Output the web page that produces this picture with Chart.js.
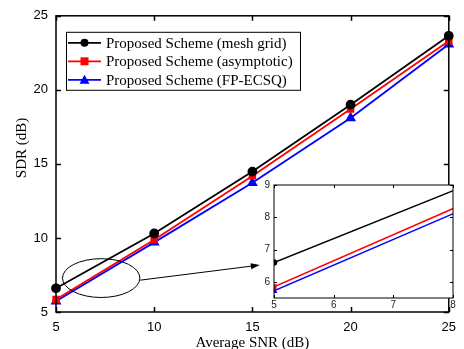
<!DOCTYPE html>
<html lang="en">
<head>
    <meta charset="UTF-8">
    <title>SDR vs Average SNR</title>
    <script src="https://cdn.jsdelivr.net/npm/chart.js"></script>
    <style>
        body {
            margin: 0;
            background: #fff;
        }
        #wrap {
            position: relative;
            width: 464px;
            height: 349px;
        }
        #main-chart {
            position: absolute;
            left: 0;
            top: 0;
        }
        #inset-chart {
            position: absolute;
            left: 255px;
            top: 175px;
        }
    </style>
</head>
<body>
    <div id="wrap">
        <canvas id="main-chart" width="464" height="349"></canvas>
        <canvas id="inset-chart" width="205" height="135"></canvas>
    </div>
    <script>
        // Data
        const snr = [5, 10, 15, 20, 25];
        const meshGrid = [6.6, 10.3, 14.48, 19.0, 23.65];
        const asymptotic = [5.85, 9.88, 14.19, 18.7, 23.3];
        const fpEcsq = [5.72, 9.7, 13.72, 18.1, 23.08];
        const seriesLabels = [
            'Proposed Scheme (mesh grid)',
            'Proposed Scheme (asymptotic)',
            'Proposed Scheme (FP-ECSQ)'
        ];
        const mainTicks = [5, 10, 15, 20, 25];
        const insetXTicks = [5, 6, 7, 8];
        const insetYTicks = [6, 7, 8, 9];

        const serif = '"Liberation Serif", "Times New Roman", serif';
        const sans = '"Liberation Sans", Arial, sans-serif';

        function toPoints(ys) {
            return snr.map((x, i) => ({ x: x, y: ys[i] }));
        }

        function makeDatasets(small) {
            const r = small ? 2.5 : 4;
            const w = small ? 1.5 : 1.8;
            return [
                { label: seriesLabels[0], data: toPoints(meshGrid), borderColor: '#000', backgroundColor: '#000',
                  pointStyle: 'circle', pointRadius: r, borderWidth: w },
                { label: seriesLabels[1], data: toPoints(asymptotic), borderColor: '#ff0000', backgroundColor: '#ff0000',
                  pointStyle: 'rect', pointRadius: r, borderWidth: w },
                { label: seriesLabels[2], data: toPoints(fpEcsq), borderColor: '#0000ff', backgroundColor: '#0000ff',
                  pointStyle: 'triangle', pointRadius: small ? 2.5 : 4.5, borderWidth: w }
            ];
        }

        // inward ticks on all four sides plus a full box
        const boxTicks = {
            id: 'boxTicks',
            afterDatasetsDraw(chart, args, opts) {
                const ctx = chart.ctx;
                const a = chart.chartArea;
                const len = opts.len || 5;
                ctx.save();
                ctx.strokeStyle = '#000';
                ctx.lineWidth = opts.width || 1.5;
                ctx.strokeRect(a.left, a.top, a.right - a.left, a.bottom - a.top);
                ctx.beginPath();
                chart.scales.x.ticks.forEach(t => {
                    const px = Math.round(chart.scales.x.getPixelForValue(t.value)) + 0.5;
                    ctx.moveTo(px, a.bottom); ctx.lineTo(px, a.bottom - len);
                    ctx.moveTo(px, a.top); ctx.lineTo(px, a.top + len);
                });
                chart.scales.y.ticks.forEach(t => {
                    const py = Math.round(chart.scales.y.getPixelForValue(t.value)) + 0.5;
                    ctx.moveTo(a.left, py); ctx.lineTo(a.left + len, py);
                    ctx.moveTo(a.right, py); ctx.lineTo(a.right - len, py);
                });
                ctx.stroke();
                ctx.restore();
            }
        };

        // zoom ellipse + arrow, given in data units
        const zoomMark = { cx: 7.3, cy: 7.29, rx: 1.97, ry: 1.31, fromX: 9.29, fromY: 7.15, toX: 15.38, toY: 8.17 };

        const extras = {
            id: 'extras',
            afterDraw(chart) {
                const ctx = chart.ctx;
                const xs = chart.scales.x, ys = chart.scales.y;
                const a = chart.chartArea;
                ctx.save();

                // ellipse
                const cx = xs.getPixelForValue(zoomMark.cx), cy = ys.getPixelForValue(zoomMark.cy);
                const rx = xs.getPixelForValue(zoomMark.cx + zoomMark.rx) - cx;
                const ry = cy - ys.getPixelForValue(zoomMark.cy + zoomMark.ry);
                ctx.strokeStyle = '#000';
                ctx.lineWidth = 1;
                ctx.beginPath();
                ctx.ellipse(cx, cy, rx, ry, 0, 0, Math.PI * 2);
                ctx.stroke();

                // arrow
                const x1 = xs.getPixelForValue(zoomMark.fromX), y1 = ys.getPixelForValue(zoomMark.fromY);
                const x2 = xs.getPixelForValue(zoomMark.toX), y2 = ys.getPixelForValue(zoomMark.toY);
                const ang = Math.atan2(y2 - y1, x2 - x1);
                ctx.beginPath();
                ctx.moveTo(x1, y1);
                ctx.lineTo(x2 - 8 * Math.cos(ang), y2 - 8 * Math.sin(ang));
                ctx.stroke();
                ctx.fillStyle = '#000';
                ctx.beginPath();
                ctx.moveTo(x2, y2);
                ctx.lineTo(x2 - 9 * Math.cos(ang) + 3 * Math.sin(ang), y2 - 9 * Math.sin(ang) - 3 * Math.cos(ang));
                ctx.lineTo(x2 - 9 * Math.cos(ang) - 3 * Math.sin(ang), y2 - 9 * Math.sin(ang) + 3 * Math.cos(ang));
                ctx.closePath();
                ctx.fill();

                // legend box
                const lx = a.left + 10, ly = a.top + 16, lw = 234, lh = 58;
                ctx.fillStyle = '#fff';
                ctx.fillRect(lx, ly, lw, lh);
                ctx.strokeStyle = '#000';
                ctx.lineWidth = 1;
                ctx.strokeRect(lx + 0.5, ly + 0.5, lw, lh);
                chart.data.datasets.forEach((ds, i) => {
                    const ry0 = ly + 11 + i * 18.5;
                    ctx.strokeStyle = ds.borderColor;
                    ctx.lineWidth = 1.8;
                    ctx.beginPath();
                    ctx.moveTo(lx + 2, ry0);
                    ctx.lineTo(lx + 35, ry0);
                    ctx.stroke();
                    ctx.fillStyle = ds.backgroundColor;
                    const mx = lx + 18.5;
                    ctx.beginPath();
                    if (ds.pointStyle === 'circle') {
                        ctx.arc(mx, ry0, 4, 0, Math.PI * 2);
                    } else if (ds.pointStyle === 'rect') {
                        ctx.rect(mx - 4, ry0 - 4, 8, 8);
                    } else {
                        ctx.moveTo(mx, ry0 - 5);
                        ctx.lineTo(mx + 5, ry0 + 4);
                        ctx.lineTo(mx - 5, ry0 + 4);
                        ctx.closePath();
                    }
                    ctx.fill();
                    ctx.fillStyle = '#000';
                    ctx.font = '15px ' + serif;
                    ctx.textAlign = 'left';
                    ctx.textBaseline = 'middle';
                    ctx.fillText(ds.label, lx + 40, ry0 + 1);
                });

                // axis titles
                ctx.fillStyle = '#000';
                ctx.font = '15px ' + serif;
                ctx.textAlign = 'center';
                ctx.textBaseline = 'middle';
                ctx.fillText('Average SNR (dB)', (a.left + a.right) / 2, 343);
                ctx.translate(22, 148);
                ctx.rotate(-Math.PI / 2);
                ctx.fillText('SDR (dB)', 0, 0);
                ctx.restore();
            }
        };

        new Chart(document.getElementById('main-chart'), {
            type: 'line',
            data: { datasets: makeDatasets(false) },
            options: {
                responsive: false,
                animation: false,
                clip: false,
                layout: { padding: { top: 15, right: 6, left: 0, bottom: 0 } },
                plugins: {
                    legend: { display: false },
                    tooltip: { enabled: false },
                    boxTicks: { len: 5, width: 1.5 }
                },
                scales: {
                    x: {
                        type: 'linear', min: 5, max: 25,
                        afterBuildTicks: s => { s.ticks = mainTicks.map(v => ({ value: v })); },
                        afterFit: s => { s.height = 37; },
                        grid: { display: false, drawTicks: false },
                        border: { display: false },
                        ticks: { color: '#000', font: { family: sans, size: 13 }, padding: 8, maxRotation: 0 }
                    },
                    y: {
                        type: 'linear', min: 5, max: 25,
                        afterBuildTicks: s => { s.ticks = mainTicks.map(v => ({ value: v })); },
                        afterFit: s => { s.width = 56; },
                        grid: { display: false, drawTicks: false },
                        border: { display: false },
                        ticks: { color: '#000', font: { family: sans, size: 13 }, padding: 8 }
                    }
                }
            },
            plugins: [boxTicks, extras]
        });

        // white plot area behind the inset lines
        const insetBg = {
            id: 'insetBg',
            beforeDatasetsDraw(chart) {
                const a = chart.chartArea;
                chart.ctx.save();
                chart.ctx.fillStyle = '#fff';
                chart.ctx.fillRect(a.left, a.top, a.right - a.left, a.bottom - a.top);
                chart.ctx.restore();
            }
        };

        new Chart(document.getElementById('inset-chart'), {
            type: 'line',
            data: { datasets: makeDatasets(true) },
            options: {
                responsive: false,
                animation: false,
                layout: { padding: { top: 6, right: 7, left: 0, bottom: 0 } },
                plugins: {
                    legend: { display: false },
                    tooltip: { enabled: false },
                    boxTicks: { len: 3, width: 1 }
                },
                scales: {
                    x: {
                        type: 'linear', min: 5, max: 8,
                        afterBuildTicks: s => { s.ticks = insetXTicks.map(v => ({ value: v })); },
                        afterFit: s => { s.height = 12; },
                        grid: { display: false, drawTicks: false },
                        border: { display: false },
                        ticks: { color: '#222', font: { family: sans, size: 10 }, padding: 1, maxRotation: 0 }
                    },
                    y: {
                        type: 'linear', min: 5.5, max: 9,
                        afterBuildTicks: s => { s.ticks = insetYTicks.map(v => ({ value: v })); },
                        afterFit: s => { s.width = 19; },
                        grid: { display: false, drawTicks: false },
                        border: { display: false },
                        ticks: { color: '#222', font: { family: sans, size: 10 }, padding: 4 }
                    }
                }
            },
            plugins: [insetBg, boxTicks]
        });
    </script>
</body>
</html>
